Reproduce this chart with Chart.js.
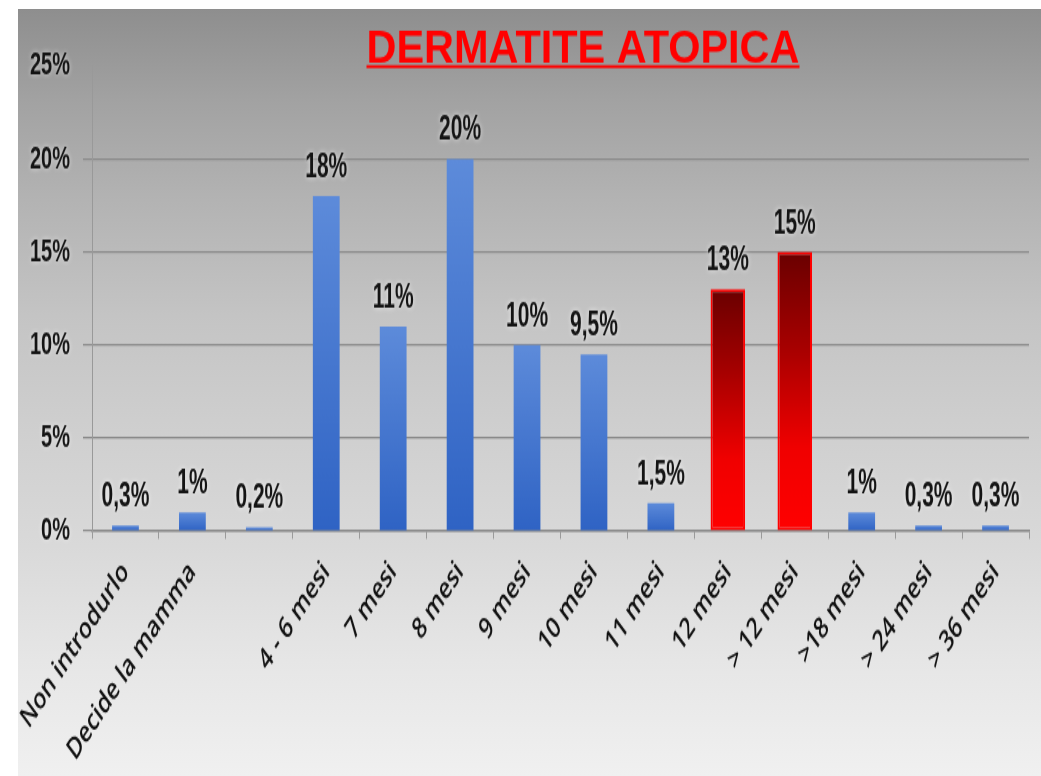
<!DOCTYPE html>
<html>
<head>
<meta charset="utf-8">
<script src="https://cdn.jsdelivr.net/npm/chart.js@4.4.1/dist/chart.umd.min.js"></script>
<style>
  html, body { margin: 0; padding: 0; background: #fff; }
  #panel {
    position: absolute; left: 18px; top: 9px; width: 1023px; height: 767px;
    background: linear-gradient(to bottom, #8e8e8e 0%, #a2a2a2 12%, #b3b3b3 25%, #c4c4c4 40%,
      #cfcfcf 55%, #d9d9d9 70%, #e6e6e6 85%, #f0f0f0 100%);
  }
</style>
</head>
<body>
<div id="panel">
  <!-- the slide chart is tall and narrow: drawn at 529px, stretched to the panel height -->
  <canvas id="chart" width="1023" height="529" style="display:block;width:1023px;height:767px"></canvas>
</div>
<script>
var categories = ['Non introdurlo', 'Decide la mamma', '', '4 - 6 mesi', '7 mesi', '8 mesi', '9 mesi',
  '10 mesi', '11 mesi', '12 mesi', '> 12 mesi', '>18 mesi', '> 24 mesi', '> 36 mesi'];
var percentages = [0.3, 1, 0.2, 18, 11, 20, 10, 9.5, 1.5, 13, 15, 1, 0.3, 0.3];
var highlighted = ['12 mesi', '> 12 mesi'];
var yTicks = [0, 5, 10, 15, 20, 25];
var chartTitle = 'DERMATITE ATOPICA';

var sansBold = '"Liberation Sans", Arial, sans-serif';

var blueValues = percentages.map(function(v, i) {
  return highlighted.indexOf(categories[i]) >= 0 ? null : v;
});
var redValues = percentages.map(function(v, i) {
  return highlighted.indexOf(categories[i]) >= 0 ? v : null;
});

function formatPct(v) {
  return String(v).replace('.', ',') + '%';
}

// vertical gradient running from the bar top down to the zero line
function barGradient(context, stops) {
  var chart = context.chart;
  if (!chart.chartArea || context.raw == null) return stops[stops.length - 1][1];
  var y = chart.scales.y;
  var top = y.getPixelForValue(context.raw);
  var bottom = y.getPixelForValue(0);
  var g = chart.ctx.createLinearGradient(0, top, 0, bottom);
  stops.forEach(function(s) { g.addColorStop(s[0], s[1]); });
  return g;
}

// tall, heavy number text (value labels and y tick labels)
function tallText(ctx, text, x, y, align) {
  ctx.save();
  ctx.translate(x, y);
  ctx.scale(1, 1.12);
  ctx.textAlign = align;
  ctx.fillText(text, 0, 0);
  ctx.restore();
}

var valueLabels = {
  id: 'valueLabels',
  afterDatasetsDraw: function(chart) {
    var ctx = chart.ctx;
    ctx.save();
    ctx.font = 'bold 21px ' + sansBold;
    ctx.fillStyle = '#141414';
    ctx.textBaseline = 'alphabetic';
    ctx.shadowColor = 'rgba(255,255,255,0.7)';
    ctx.shadowBlur = 4;
    chart.data.datasets.forEach(function(ds, di) {
      chart.getDatasetMeta(di).data.forEach(function(bar, i) {
        var v = ds.data[i];
        if (v == null) return;
        tallText(ctx, formatPct(v), bar.x, bar.y - 13, 'center');
      });
    });
    ctx.restore();
  }
};

var yTickLabels = {
  id: 'yTickLabels',
  afterDraw: function(chart) {
    var ctx = chart.ctx;
    var y = chart.scales.y;
    ctx.save();
    ctx.font = 'bold 20px ' + sansBold;
    ctx.fillStyle = '#141414';
    ctx.textBaseline = 'middle';
    ctx.shadowColor = 'rgba(255,255,255,0.6)';
    ctx.shadowBlur = 4;
    y.ticks.forEach(function(t) {
      tallText(ctx, t.value + '%', y.right - 22, y.getPixelForValue(t.value), 'right');
    });
    ctx.restore();
  }
};

var slideTitle = {
  id: 'slideTitle',
  afterDraw: function(chart) {
    var ctx = chart.ctx;
    var cx = 565, base = 36.5, width = 433;
    ctx.save();
    ctx.font = 'bold 32px ' + sansBold;
    var w = ctx.measureText(chartTitle).width;
    ctx.translate(cx, base);
    ctx.scale(width / w, 1);
    ctx.fillStyle = '#ff0000';
    ctx.textAlign = 'center';
    ctx.textBaseline = 'alphabetic';
    ctx.fillText(chartTitle, 0, 0);
    ctx.fillRect(-w / 2, 2.2, w, 2);
    ctx.restore();
  }
};

new Chart(document.getElementById('chart'), {
  type: 'bar',
  data: {
    labels: categories,
    datasets: [{
      data: blueValues,
      grouped: false,
      categoryPercentage: 0.8,
      barPercentage: 0.5,
      borderWidth: 0,
      backgroundColor: function(c) {
        return barGradient(c, [[0, '#5d8bda'], [0.5, '#4677cf'], [1, '#2f63c4']]);
      }
    }, {
      data: redValues,
      grouped: false,
      categoryPercentage: 0.8,
      barPercentage: 0.645,
      borderWidth: 2,
      borderColor: '#ff0000',
      borderSkipped: false,
      backgroundColor: function(c) {
        return barGradient(c, [[0, '#6a0000'], [0.35, '#a80000'], [0.7, '#f00000'], [1, '#ff0000']]);
      }
    }]
  },
  options: {
    responsive: false,
    animation: false,
    events: [],
    layout: { padding: { top: 39.3, right: 12, left: 0, bottom: 0 } },
    plugins: {
      legend: { display: false },
      tooltip: { enabled: false }
    },
    scales: {
      x: {
        offset: true,
        afterFit: function(scale) {
          scale.height = 169;
          // let the first slanted label hang past the y axis
          scale.paddingLeft = 0;
          scale.paddingRight = 0;
        },
        grid: {
          offset: true,
          drawOnChartArea: false,
          tickLength: 5.5,
          color: '#9a9a9a',
          lineWidth: 1
        },
        border: { color: '#8a8a8a', width: 1.5 },
        ticks: {
          autoSkip: false,
          minRotation: 47,
          maxRotation: 47,
          padding: 11,
          color: '#111',
          font: { family: '"Open Sans", sans-serif', size: 20.5, weight: '600' }
        }
      },
      y: {
        min: 0,
        max: 25,
        afterFit: function(scale) { scale.width = 74; },
        afterBuildTicks: function(scale) {
          scale.ticks = yTicks.map(function(v) { return { value: v }; });
        },
        grid: {
          color: function(c) { return c.tick && c.tick.value === 25 ? 'rgba(0,0,0,0)' : '#8a8a8a'; },
          lineWidth: 1.2,
          tickLength: 9
        },
        border: { color: '#999', width: 1 },
        ticks: { display: false }
      }
    }
  },
  plugins: [valueLabels, yTickLabels, slideTitle]
});
</script>
</body>
</html>
